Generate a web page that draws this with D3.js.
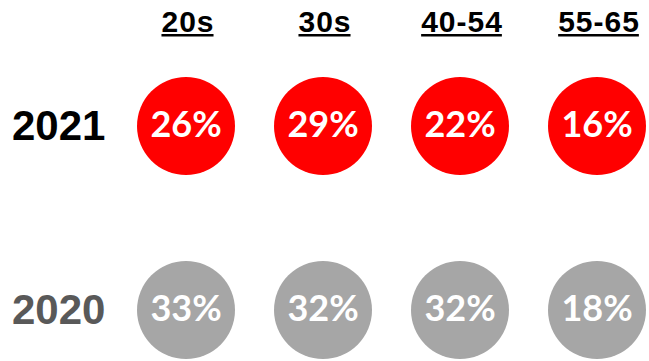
<!DOCTYPE html>
<html>
<head>
<meta charset="utf-8">
<script src="https://cdn.jsdelivr.net/npm/d3@7"></script>
<style>
  html, body { margin: 0; padding: 0; background: #fff; }
  svg { display: block; }
</style>
</head>
<body>
<svg id="chart" width="649" height="361"></svg>
<script>
// Age groups across the top, survey years down the side
const ageGroups = ["20s", "30s", "40-54", "55-65"];
const years = ["2021", "2020"];
const values2021 = [26, 29, 22, 16];
const values2020 = [33, 32, 32, 18];
const yearColors = ["#FF0000", "#A6A6A6"];
const yearLabelColors = ["#000000", "#595959"];

const seriesByYear = [values2021, values2020];

const svg = d3.select("#chart");
const width = 649, height = 361;

const x = d3.scalePoint().domain(ageGroups).range([186, 597]);
const y = d3.scalePoint().domain(years).range([126, 310]);
const radius = 49;

// Column headers (underlined)
const headers = svg.append("g").selectAll("g")
  .data(ageGroups)
  .join("g");

headers.append("text")
  .attr("x", d => x(d) + 2)
  .attr("y", 32)
  .attr("text-anchor", "middle")
  .attr("font-family", "'Liberation Sans', Arial, sans-serif")
  .attr("font-weight", "bold")
  .attr("font-size", 30)
  .attr("letter-spacing", 1)
  .attr("fill", "#000")
  .text(d => d)
  .each(function (d) {
    const bb = this.getBBox();
    d3.select(this.parentNode).append("rect")
      .attr("x", bb.x)
      .attr("y", 34)
      .attr("width", bb.width - 1)
      .attr("height", 2.5)
      .attr("fill", "#000");
  });

// Row labels
svg.append("g").selectAll("text")
  .data(years)
  .join("text")
  .attr("x", 12)
  .attr("y", (d, i) => y(d) + 14)
  .attr("font-family", "'Liberation Sans', Arial, sans-serif")
  .attr("font-weight", "bold")
  .attr("font-size", 42)
  .attr("fill", (d, i) => yearLabelColors[i])
  .text(d => d);

// Bubbles with values
const cells = years.flatMap((yr, i) =>
  ageGroups.map((g, j) => ({ year: yr, group: g, value: seriesByYear[i][j], row: i }))
);

const bubble = svg.append("g").selectAll("g")
  .data(cells)
  .join("g")
  .attr("transform", d => `translate(${x(d.group)},${y(d.year)})`);

bubble.append("circle")
  .attr("r", radius)
  .attr("fill", d => yearColors[d.row]);

bubble.append("text")
  .attr("y", 11)
  .attr("text-anchor", "middle")
  .attr("font-family", "Lato, 'Open Sans', sans-serif")
  .attr("font-weight", "bold")
  .attr("font-size", 36)
  .attr("fill", "#fff")
  .text(d => d.value + "%");
</script>
</body>
</html>
